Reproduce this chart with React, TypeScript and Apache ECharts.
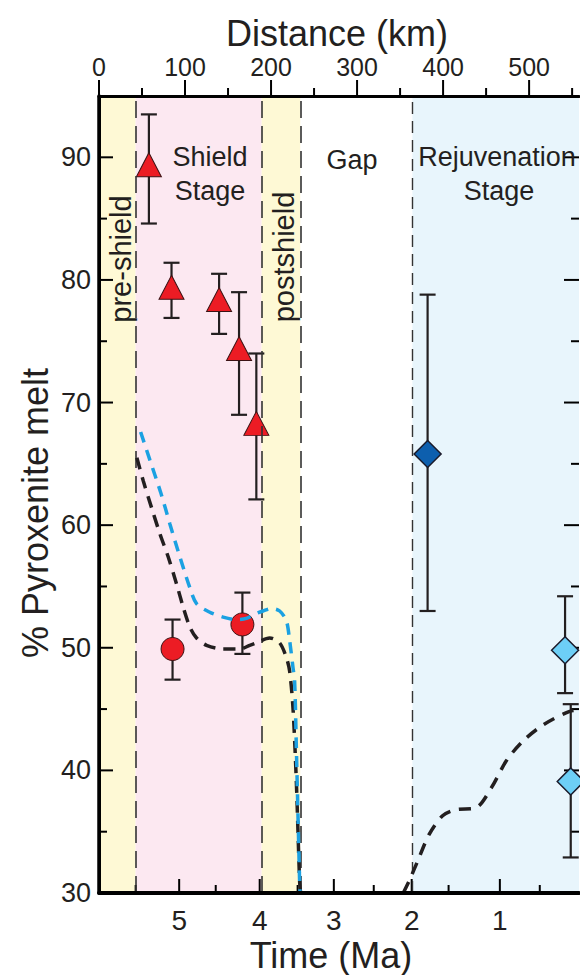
import React, { useEffect, useRef } from "react";
import * as echarts from "echarts";

// ---- axes ----
const KM_MIN = 0;
const KM_MAX = 558;
const Y_MIN = 30;
const Y_MAX = 95;
const distMajor = [0, 100, 200, 300, 400, 500];
const distMinor = [50, 150, 250, 350, 450, 550];
const yMajor = [30, 40, 50, 60, 70, 80, 90];
const yMinor = [35, 45, 55, 65, 75, 85];
// time (Ma) ticks expressed at their distance (km) positions
const timeMajorLabels = [5, 4, 3, 2, 1];
const timeMajorKm = [93.2, 186.8, 273.0, 363.5, 466.0];
const timeMinorKm = [42.6, 135.7, 230.9, 319.4, 406.4, 512.4];

// ---- stages (km) ----
const stageStart = [0, 42.6, 189.1, 364.3];
const stageEnd = [42.6, 189.1, 234.0, 558];
const stageKind = ["pre", "shield", "post", "rejuv"];
const stageBoundaries = [42.6, 189.1, 234.0, 364.3];

// ---- data: shield-stage triangles ----
const triKm = [58.0, 84.3, 139.6, 162.8, 182.9];
const triVal = [89.4, 79.4, 78.4, 74.4, 68.3];
const triLow = [84.6, 76.9, 75.6, 69.0, 62.1];
const triHigh = [93.5, 81.4, 80.5, 79.0, 74.0];

// ---- data: shield-stage circles ----
const circKm = [85.5, 166.7];
const circVal = [49.9, 51.9];
const circLow = [47.4, 49.5];
const circHigh = [52.3, 54.5];

// ---- data: rejuvenation diamonds ----
const darkDiaKm = [382.0];
const darkDiaVal = [65.8];
const darkDiaLow = [53.0];
const darkDiaHigh = [78.8];
const lightDiaKm = [541.8, 548.4];
const lightDiaVal = [49.8, 39.1];
const lightDiaLow = [46.3, 32.9];
const lightDiaHigh = [54.2, 45.4];

// ---- model curves ----
const blackShieldKm = [44.0, 51.5, 61.2, 70.8, 80.5, 90.2, 97.9, 105.6, 113.4, 125.0, 144.3, 163.6, 175.2, 183.0, 198.4, 210.0, 217.8, 221.6, 225.5, 229.4, 233.2, 234.4];
const blackShieldVal = [65.5, 63.6, 61.4, 59.3, 57.4, 55.2, 53.3, 51.7, 50.8, 50.2, 49.9, 49.9, 50.2, 50.4, 50.8, 50.4, 49.2, 48.1, 45.1, 39.1, 31.0, 30.0];
const blueShieldKm = [48.4, 59.2, 72.0, 82.4, 93.2, 105.6, 113.4, 128.8, 144.3, 159.8, 171.4, 183.0, 190.7, 200.4, 210.0, 217.8, 221.6, 225.5, 227.4, 229.4, 231.3, 233.2, 233.8];
const blueShieldVal = [67.6, 65.3, 62.6, 60.1, 57.6, 54.9, 53.6, 52.9, 52.5, 52.3, 52.4, 52.8, 53.0, 53.2, 53.0, 52.2, 50.6, 48.4, 47.3, 41.9, 36.4, 31.0, 30.0];
const blackRejKm = [353.7, 360.7, 370.4, 384.0, 399.4, 414.9, 438.1, 456.3, 473.7, 493.0, 516.2, 546.4, 558];
const blackRejVal = [30.0, 31.0, 32.6, 34.8, 36.3, 36.8, 36.95, 38.6, 40.8, 42.4, 43.7, 44.8, 44.9];

const INK = "#231f20";
const FONT = "'Liberation Sans', Arial, Helvetica, sans-serif";
const stageColor: Record<string, string> = {
  pre: "#fef9d5",
  shield: "#fce8f1",
  post: "#fef9d5",
  rejuv: "#e8f5fc",
};

const zip = (xs: number[], ys: number[]) => xs.map((x, i) => [x, ys[i]]);
const zip3 = (xs: number[], lo: number[], hi: number[]) => xs.map((x, i) => [x, lo[i], hi[i]]);

// tick marks: [value, side (0 top, 1 bottom, 2 left, 3 right), major?]
const tickData = [
  ...distMajor.map((v) => [v, 0, 1]),
  ...distMinor.map((v) => [v, 0, 0]),
  ...timeMajorKm.map((v) => [v, 1, 1]),
  ...timeMinorKm.map((v) => [v, 1, 0]),
  ...yMajor.map((v) => [v, 2, 1]),
  ...yMinor.map((v) => [v, 2, 0]),
  ...yMajor.map((v) => [v, 3, 1]),
  ...yMinor.map((v) => [v, 3, 0]),
];

export default function App() {
  const ref = useRef<HTMLDivElement>(null);
  useEffect(() => {
    if (!ref.current) return;
    const chart = echarts.init(ref.current, undefined, { renderer: "svg" });

    const gridLeft = 99;
    const gridTop = 96;
    const gridWidth = 480;
    const gridHeight = 797;

    const baseX = { type: "value", min: KM_MIN, max: KM_MAX, gridIndex: 0, splitLine: { show: false }, z: 10 };
    const baseY = { type: "value", min: Y_MIN, max: Y_MAX, gridIndex: 0, splitLine: { show: false }, z: 10 };

    const errorBarSeries = (data: number[][], name: string) => ({
      type: "custom",
      name,
      xAxisIndex: 0,
      yAxisIndex: 0,
      z: 3,
      clip: false,
      encode: { x: 0, y: [1, 2] },
      data,
      renderItem: (_params: any, api: any) => {
        const x = api.value(0);
        const lo = api.coord([x, api.value(1)]);
        const hi = api.coord([x, api.value(2)]);
        const hw = 8;
        const style = { stroke: INK, lineWidth: 2.2 };
        return {
          type: "group",
          children: [
            { type: "line", shape: { x1: lo[0], y1: lo[1], x2: hi[0], y2: hi[1] }, style },
            { type: "line", shape: { x1: lo[0] - hw, y1: lo[1], x2: lo[0] + hw, y2: lo[1] }, style },
            { type: "line", shape: { x1: hi[0] - hw, y1: hi[1], x2: hi[0] + hw, y2: hi[1] }, style },
          ],
        };
      },
    });

    const txt = (text: string, x: number, y: number, fontSize: number, rotate = false) => ({
      type: "text",
      x,
      y,
      z: 100,
      rotation: rotate ? Math.PI / 2 : 0,
      silent: true,
      style: { text, fontSize, fontFamily: FONT, fill: INK, align: "center", verticalAlign: "middle" },
    });

    const markerSeries = (name: string, symbol: string, symbolSize: any, color: string, border: string, bw: number, data: number[][]) => ({
      type: "scatter",
      name,
      xAxisIndex: 0,
      yAxisIndex: 0,
      z: 4,
      symbol,
      symbolSize,
      itemStyle: { color, borderColor: border, borderWidth: bw, opacity: 1 },
      data,
    });

    const option: any = {
      animation: false,
      backgroundColor: "#ffffff",
      textStyle: { fontFamily: FONT, color: INK },
      grid: { left: gridLeft, top: gridTop, width: gridWidth, height: gridHeight, containLabel: false },
      xAxis: [
        {
          ...baseX,
          position: "top",
          axisLine: { show: true, lineStyle: { color: "#000", width: 3 } },
          axisTick: { show: false },
          axisLabel: { show: true, customValues: distMajor, fontSize: 25, margin: 17, color: INK, fontFamily: FONT },
        },
        {
          ...baseX,
          position: "bottom",
          axisLine: { show: true, lineStyle: { color: "#000", width: 4 } },
          axisTick: { show: false },
          axisLabel: {
            show: true,
            customValues: timeMajorKm,
            fontSize: 28,
            margin: 13,
            color: INK,
            fontFamily: FONT,
            formatter: (v: number) => {
              let best = 0;
              for (let i = 0; i < timeMajorKm.length; i++) {
                if (Math.abs(timeMajorKm[i] - v) < Math.abs(timeMajorKm[best] - v)) best = i;
              }
              return String(timeMajorLabels[best]);
            },
          },
        },
      ],
      yAxis: [
        {
          ...baseY,
          position: "left",
          axisLine: { show: true, lineStyle: { color: "#000", width: 3.5 } },
          axisTick: { show: false },
          axisLabel: { show: true, customValues: yMajor, fontSize: 27, margin: 8, color: INK, fontFamily: FONT },
        },
        {
          ...baseY,
          position: "right",
          axisLine: { show: true, lineStyle: { color: "#000", width: 3 } },
          axisTick: { show: false },
          axisLabel: { show: false },
        },
      ],
      series: [
        {
          type: "line",
          name: "stages",
          xAxisIndex: 0,
          yAxisIndex: 0,
          z: 1,
          data: [],
          silent: true,
          markArea: {
            silent: true,
            data: stageStart.map((s, i) => [
              { xAxis: s, itemStyle: { color: stageColor[stageKind[i]] } },
              { xAxis: stageEnd[i] },
            ]),
          },
          markLine: {
            silent: true,
            symbol: ["none", "none"],
            label: { show: false },
            data: stageBoundaries.map((b, i) => ({
              xAxis: b,
              lineStyle: {
                color: "#333333",
                width: i === 3 ? 1.4 : 1.6,
                type: i === 3 ? [12, 7] : [17, 8],
              },
            })),
          },
        },
        {
          type: "custom",
          name: "axis ticks",
          xAxisIndex: 0,
          yAxisIndex: 0,
          z: 2,
          clip: false,
          silent: true,
          encode: { x: 0 },
          data: tickData,
          renderItem: (_params: any, api: any) => {
            const v = api.value(0);
            const side = api.value(1);
            const major = api.value(2) === 1;
            let p: number[];
            let x2: number;
            let y2: number;
            if (side === 0) {
              p = api.coord([v, Y_MAX]);
              x2 = p[0];
              y2 = p[1] - (major ? 16 : 8);
            } else if (side === 1) {
              p = api.coord([v, Y_MIN]);
              x2 = p[0];
              y2 = p[1] - (major ? 14 : 8);
            } else if (side === 2) {
              p = api.coord([KM_MIN, v]);
              x2 = p[0] + (major ? 14 : 8);
              y2 = p[1];
            } else {
              p = api.coord([KM_MAX, v]);
              x2 = p[0] - (major ? 15 : 8);
              y2 = p[1];
            }
            return {
              type: "line",
              shape: { x1: p[0], y1: p[1], x2, y2 },
              style: { stroke: "#000", lineWidth: 2 },
            };
          },
        },
        errorBarSeries(zip3(triKm, triLow, triHigh), "tri-err"),
        errorBarSeries(zip3(circKm, circLow, circHigh), "circ-err"),
        errorBarSeries(zip3(darkDiaKm, darkDiaLow, darkDiaHigh), "dark-err"),
        errorBarSeries(zip3(lightDiaKm, lightDiaLow, lightDiaHigh), "light-err"),
        markerSeries("Shield triangles", "triangle", [25, 24], "#ec1c24", "#3b1214", 1, zip(triKm, triVal)),
        markerSeries("Shield circles", "circle", 23, "#ec1c24", "#3b1214", 1, zip(circKm, circVal)),
        markerSeries("Rejuvenation dark", "diamond", [27, 27], "#0d5fae", "#1a1a2a", 1.5, zip(darkDiaKm, darkDiaVal)),
        markerSeries("Rejuvenation light", "diamond", [27, 27], "#6dcff6", "#1a1a2a", 1.5, zip(lightDiaKm, lightDiaVal)),
        {
          type: "line",
          name: "model black (shield)",
          xAxisIndex: 0,
          yAxisIndex: 0,
          z: 5,
          smooth: 0.3,
          symbol: "none",
          lineStyle: { color: INK, width: 3.5, type: [12, 8] },
          data: zip(blackShieldKm, blackShieldVal),
        },
        {
          type: "line",
          name: "model blue (shield)",
          xAxisIndex: 0,
          yAxisIndex: 0,
          z: 6,
          smooth: 0.3,
          symbol: "none",
          lineStyle: { color: "#1ba1e2", width: 3.5, type: [11, 8] },
          data: zip(blueShieldKm, blueShieldVal),
        },
        {
          type: "line",
          name: "model black (rejuvenation)",
          xAxisIndex: 0,
          yAxisIndex: 0,
          z: 5,
          smooth: 0.3,
          symbol: "none",
          lineStyle: { color: INK, width: 3.5, type: [12, 9] },
          data: zip(blackRejKm, blackRejVal),
        },
      ],
      graphic: {
        elements: [
          txt("Distance (km)", 337, 33, 36),
          txt("Time (Ma)", 331, 955, 36),
          txt("% Pyroxenite melt", 35, 513, 36, true),
          txt("pre-shield", 121, 259, 29, true),
          txt("postshield", 284, 257, 29, true),
          txt("Shield", 210, 157, 27),
          txt("Stage", 210, 191, 27),
          txt("Gap", 352, 160, 27),
          txt("Rejuvenation", 497, 157, 27),
          txt("Stage", 499, 191, 27),
        ],
      },
    };

    chart.setOption(option);
    return () => chart.dispose();
  }, []);

  return <div ref={ref} style={{ position: "absolute", left: 0, top: 0, width: 580, height: 975 }} />;
}
